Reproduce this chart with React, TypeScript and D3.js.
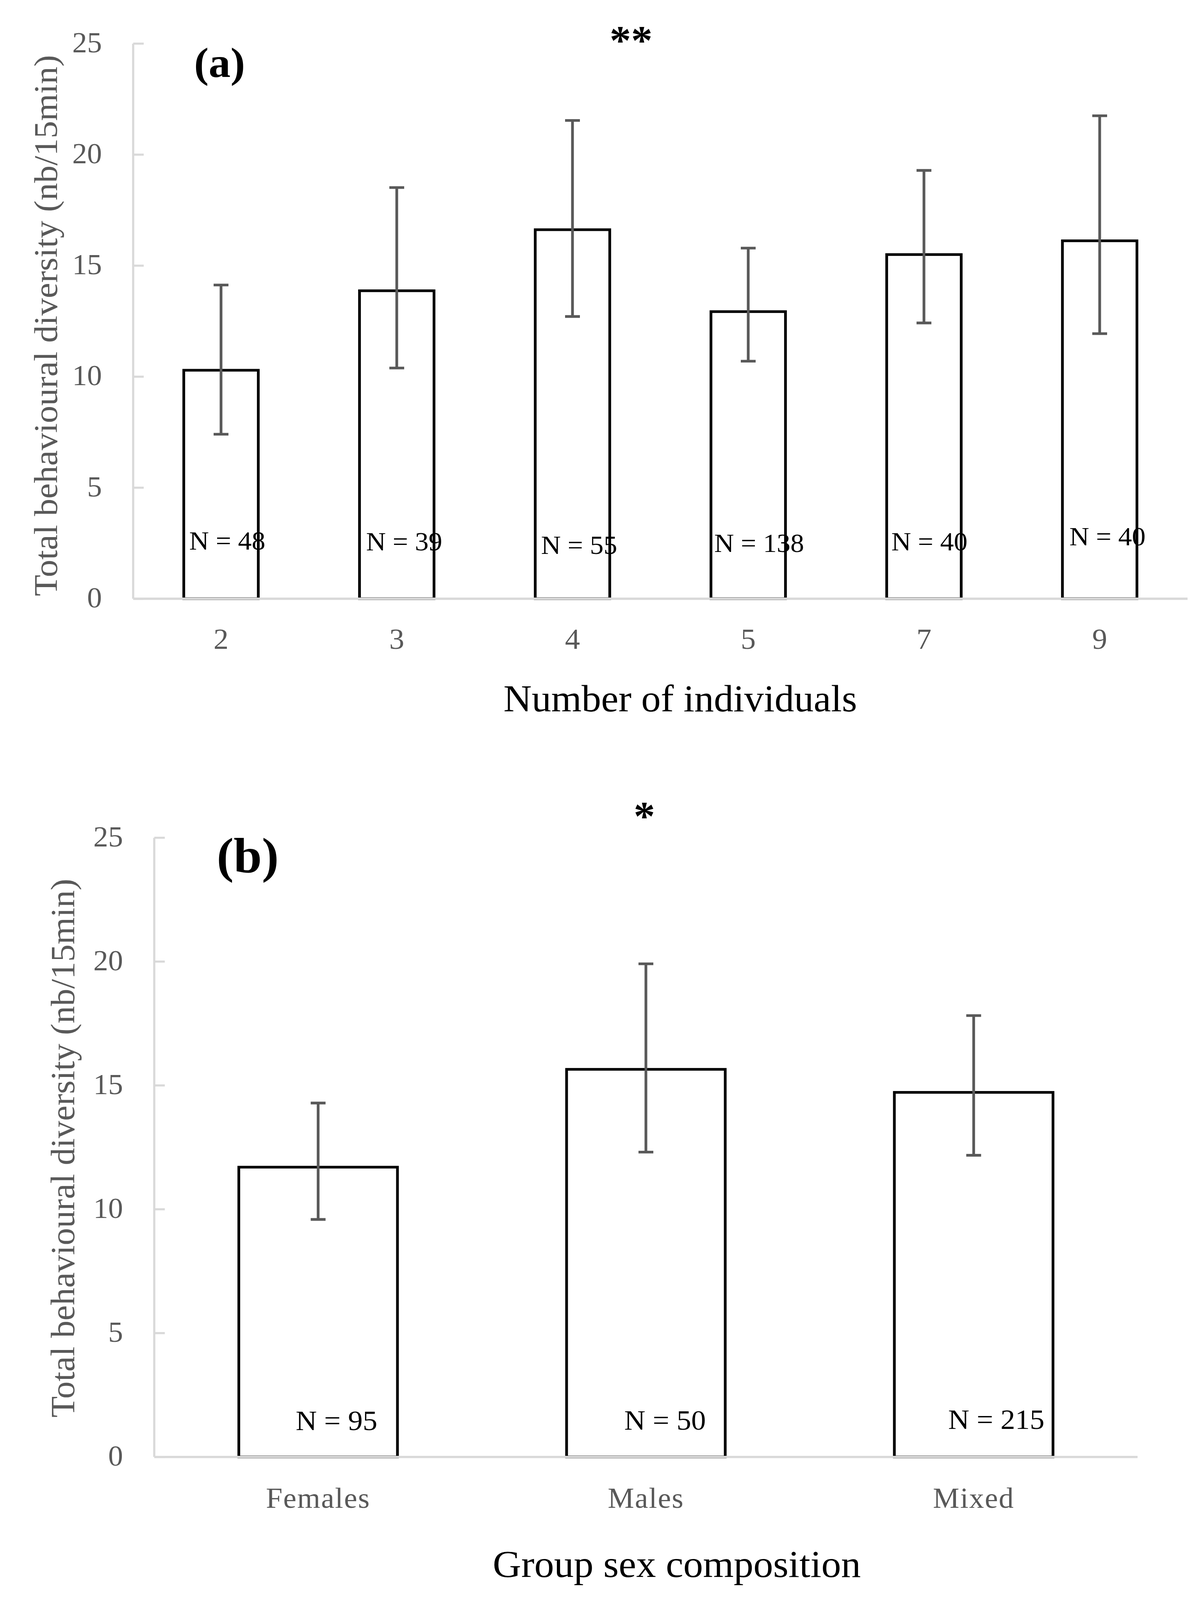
import * as d3 from 'd3';

// panel (a): behavioural diversity by group size
const groupSizes = ['2', '3', '4', '5', '7', '9'];
const sizeMeans = [10.29, 13.87, 16.62, 12.93, 15.5, 16.12];
const sizeUpper = [14.13, 18.52, 21.54, 15.79, 19.29, 21.75];
const sizeLower = [7.41, 10.39, 12.71, 10.7, 12.42, 11.94];
const sizeN = [48, 39, 55, 138, 40, 40];

// panel (b): behavioural diversity by group sex composition
const sexGroups = ['Females', 'Males', 'Mixed'];
const sexMeans = [11.7, 15.65, 14.72];
const sexUpper = [14.29, 19.91, 17.82];
const sexLower = [9.59, 12.31, 12.18];
const sexN = [95, 50, 215];

const yTickValues = [0, 5, 10, 15, 20, 25];
const yTitle = 'Total behavioural diversity (nb/15min)';

const W = 3078;
const H = 4217;
const FONT = "'Liberation Serif', 'Times New Roman', serif";
const GREY = '#595959';
const AXIS = '#d9d9d9';

type PanelProps = {
  cats: string[];
  means: number[];
  upper: number[];
  lower: number[];
  ns: number[];
  left: number;
  right: number;
  top: number;
  bottom: number;
  barFrac: number;
  tickFont: number;
  catFont: number;
  catBaseline: number;
  catSpacing: number;
  nFont: number;
  nNudge: [number, number][]; // [dx px, label baseline in data units]
  xTitle: string;
  xTitleX: number;
  xTitleY: number;
  xTitleFont: number;
  yTitleX: number;
  yTitleY: number;
  yTitleLen: number;
  yTitleFont: number;
  tag: string;
  tagX: number;
  tagY: number;
  tagFont: number;
  star: string;
  starX: number;
  starY: number;
};

const Panel = (p: PanelProps) => {
  const pad = 1 - p.barFrac;
  const x = d3
    .scaleBand<string>()
    .domain(p.cats)
    .range([p.left, p.right])
    .paddingInner(pad)
    .paddingOuter(pad / 2);
  const y = d3.scaleLinear().domain([0, 25]).range([p.bottom, p.top]);
  const bw = x.bandwidth();
  const cap = 19;

  return (
    <g>
      {/* bars */}
      {p.cats.map((c, i) => (
        <rect
          key={c}
          x={x(c)!}
          y={y(p.means[i])}
          width={bw}
          height={y(0) - y(p.means[i])}
          fill="#fff"
          stroke="#000"
          strokeWidth={7}
        />
      ))}
      {/* error bars */}
      {p.cats.map((c, i) => {
        const cx = x(c)! + bw / 2;
        return (
          <g key={c} stroke={GREY} strokeWidth={7} fill="none">
            <line x1={cx} x2={cx} y1={y(p.upper[i])} y2={y(p.lower[i])} />
            <line x1={cx - cap} x2={cx + cap} y1={y(p.upper[i])} y2={y(p.upper[i])} />
            <line x1={cx - cap} x2={cx + cap} y1={y(p.lower[i])} y2={y(p.lower[i])} />
          </g>
        );
      })}
      {/* N labels */}
      {p.cats.map((c, i) => (
        <text
          key={c}
          x={x(c)! + bw / 2 + p.nNudge[i][0]}
          y={y(p.nNudge[i][1])}
          textAnchor="middle"
          fontFamily={FONT}
          fontSize={p.nFont}
          fill="#000"
        >
          {`N = ${p.ns[i]}`}
        </text>
      ))}
      {/* axes */}
      <line x1={p.left} x2={p.left} y1={y(25)} y2={y(0)} stroke={AXIS} strokeWidth={5.5} />
      {yTickValues.map((t) => (
        <g key={t}>
          <line x1={p.left} x2={p.left + 27} y1={y(t)} y2={y(t)} stroke={AXIS} strokeWidth={5.5} />
          <text
            x={p.left - 80}
            y={y(t)}
            dy="0.3em"
            textAnchor="end"
            fontFamily={FONT}
            fontSize={p.tickFont}
            fill={GREY}
          >
            {t}
          </text>
        </g>
      ))}
      <line x1={p.left} x2={p.right} y1={y(0)} y2={y(0)} stroke={AXIS} strokeWidth={6} />
      {p.cats.map((c) => (
        <text
          key={c}
          x={x(c)! + bw / 2}
          y={p.catBaseline}
          textAnchor="middle"
          fontFamily={FONT}
          fontSize={p.catFont}
          letterSpacing={p.catSpacing}
          fill={GREY}
        >
          {c}
        </text>
      ))}
      {/* titles */}
      <text
        x={p.xTitleX}
        y={p.xTitleY}
        textAnchor="middle"
        fontFamily={FONT}
        fontSize={p.xTitleFont}
        fill="#000"
      >
        {p.xTitle}
      </text>
      <text
        transform={`translate(${p.yTitleX},${p.yTitleY}) rotate(-90)`}
        textAnchor="middle"
        fontFamily={FONT}
        fontSize={p.yTitleFont}
        textLength={p.yTitleLen}
        lengthAdjust="spacingAndGlyphs"
        fill={GREY}
      >
        {yTitle}
      </text>
      <text x={p.tagX} y={p.tagY} fontFamily={FONT} fontSize={p.tagFont} fontWeight="bold" fill="#000">
        {p.tag}
      </text>
      <text
        x={p.starX}
        y={p.starY}
        textAnchor="middle"
        fontFamily={FONT}
        fontSize={110}
        fontWeight="bold"
        fill="#000"
      >
        {p.star}
      </text>
    </g>
  );
};

export default function App() {
  return (
    <svg
      viewBox={`0 0 ${W} ${H}`}
      preserveAspectRatio="none"
      style={{ position: 'absolute', left: 0, top: 0, width: '100vw', height: '100vh', background: '#fff' }}
    >
      <rect width={W} height={H} fill="#fff" />
      <Panel
        cats={groupSizes}
        means={sizeMeans}
        upper={sizeUpper}
        lower={sizeLower}
        ns={sizeN}
        left={341}
        right={3041}
        top={115}
        bottom={1578}
        barFrac={0.424}
        tickFont={76}
        catFont={77}
        catBaseline={1710}
        catSpacing={0}
        nFont={70}
        nNudge={[
          [16, 2.21],
          [19, 2.18],
          [17, 2.01],
          [28, 2.11],
          [14, 2.18],
          [20, 2.4],
        ]}
        xTitle="Number of individuals"
        xTitleX={1742}
        xTitleY={1875}
        xTitleFont={100}
        yTitleX={146}
        yTitleY={858}
        yTitleLen={1426}
        yTitleFont={84}
        tag="(a)"
        tagX={497}
        tagY={203}
        tagFont={112}
        star="**"
        starX={1616}
        starY={143}
      />
      <Panel
        cats={sexGroups}
        means={sexMeans}
        upper={sexUpper}
        lower={sexLower}
        ns={sexN}
        left={395}
        right={2913}
        top={2208}
        bottom={3840}
        barFrac={0.484}
        tickFont={76}
        catFont={76}
        catBaseline={3974}
        catSpacing={2}
        nFont={75}
        nNudge={[
          [47, 1.09],
          [49, 1.1],
          [58, 1.14],
        ]}
        xTitle="Group sex composition"
        xTitleX={1733}
        xTitleY={4156}
        xTitleFont={101}
        yTitleX={190}
        yTitleY={3026}
        yTitleLen={1420}
        yTitleFont={86}
        tag="(b)"
        tagX={555}
        tagY={2299}
        tagFont={130}
        star="*"
        starX={1650}
        starY={2188}
      />
    </svg>
  );
}
